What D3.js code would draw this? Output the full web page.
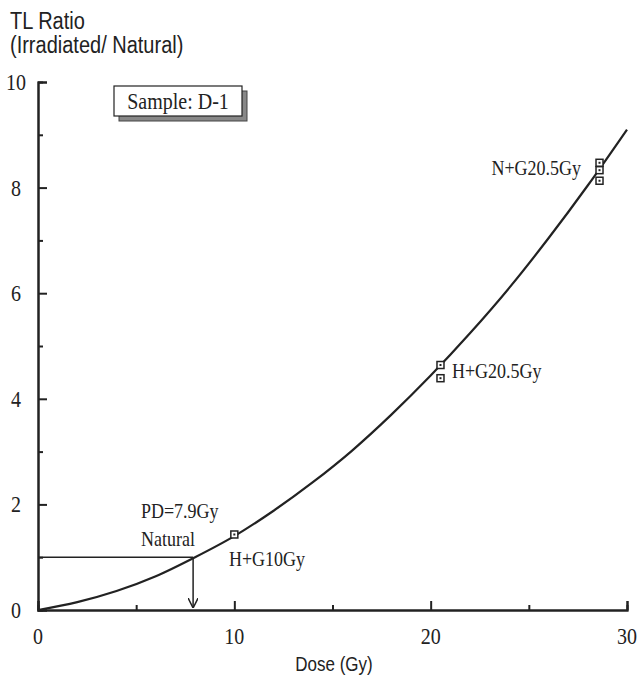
<!DOCTYPE html>
<html>
<head>
<meta charset="utf-8">
<script src="https://cdn.jsdelivr.net/npm/d3@7"></script>
<style>
  body { margin: 0; background: #fff; }
  svg text { fill: #222; }
</style>
</head>
<body>
<div id="chart"></div>
<script>
// curve (dose, ratio)
const curveDose = [0, 2, 4, 6, 8, 10, 12, 14, 16, 18, 20, 22, 24, 26, 28, 30];
const curveRatio = [0, 0.15, 0.36, 0.64, 1.0, 1.4, 1.88, 2.42, 3.02, 3.7, 4.44, 5.24, 6.1, 7.04, 8.04, 9.1];

// measured points
const pointDose = [10.0, 20.5, 20.5, 28.6, 28.6, 28.6];
const pointRatio = [1.43, 4.64, 4.39, 8.47, 8.33, 8.13];

const xTicks = [0, 10, 20, 30];
const xMinor = [5, 15, 25];
const yTicks = [0, 2, 4, 6, 8, 10];
const yMinor = [1, 3, 5, 7, 9];

const paleoDose = 7.9;
const naturalRatio = 1.0;

const width = 640, height = 687;
const margin = { left: 38, right: 13, top: 82, bottom: 77 };

const svg = d3.select("#chart").append("svg")
  .attr("width", width)
  .attr("height", height);

const x = d3.scaleLinear().domain([0, 30]).range([margin.left, width - margin.right]);
const y = d3.scaleLinear().domain([0, 10]).range([height - margin.bottom, margin.top]);

const serif = "'Liberation Serif', 'Times New Roman', serif";
const sans = "'Liberation Sans', Arial, sans-serif";

// axes (ticks inward)
const xAxis = svg.append("g")
  .attr("transform", "translate(0," + y(0) + ")")
  .call(d3.axisTop(x).tickValues(xTicks).tickSize(9).tickFormat(""));
const xMinorAxis = svg.append("g")
  .attr("transform", "translate(0," + y(0) + ")")
  .call(d3.axisTop(x).tickValues(xMinor).tickSize(5).tickFormat(""));
const yAxis = svg.append("g")
  .attr("transform", "translate(" + x(0) + ",0)")
  .call(d3.axisRight(y).tickValues(yTicks).tickSize(9).tickFormat(""));
const yMinorAxis = svg.append("g")
  .attr("transform", "translate(" + x(0) + ",0)")
  .call(d3.axisRight(y).tickValues(yMinor).tickSize(5).tickFormat(""));

[xAxis, xMinorAxis, yAxis, yMinorAxis].forEach((g) => {
  g.selectAll(".domain").attr("stroke", "#222").attr("stroke-width", 2);
  g.selectAll(".tick line").attr("stroke", "#222").attr("stroke-width", 2);
});

// tick labels
svg.append("g").selectAll("text")
  .data(xTicks)
  .enter()
  .append("text")
  .attr("x", (d) => x(d))
  .attr("y", y(0) + 34)
  .attr("text-anchor", "middle")
  .attr("font-family", serif)
  .attr("font-size", 20)
  .text((d) => d);

svg.append("g").selectAll("text")
  .data(yTicks)
  .enter()
  .append("text")
  .attr("x", 16)
  .attr("y", (d) => y(d) + 8)
  .attr("text-anchor", "middle")
  .attr("font-family", serif)
  .attr("font-size", 20)
  .text((d) => d);

// axis titles
svg.append("text").attr("x", 10).attr("y", 29)
  .attr("font-family", sans).attr("font-size", 20).text("TL Ratio");
svg.append("text").attr("x", 10).attr("y", 53)
  .attr("font-family", sans).attr("font-size", 20).text("(Irradiated/ Natural)");
svg.append("text").attr("x", 334).attr("y", 671)
  .attr("text-anchor", "middle")
  .attr("font-family", sans).attr("font-size", 17).text("Dose (Gy)");

// fitted curve
const line = d3.line()
  .x((d, i) => x(curveDose[i]))
  .y((d, i) => y(curveRatio[i]))
  .curve(d3.curveMonotoneX);
svg.append("path")
  .datum(curveDose)
  .attr("d", line)
  .attr("fill", "none")
  .attr("stroke", "#222")
  .attr("stroke-width", 2.2);

// natural level and paleodose arrow
svg.append("defs").append("marker")
  .attr("id", "arrow")
  .attr("viewBox", "0 0 10 10")
  .attr("refX", 10).attr("refY", 5)
  .attr("markerWidth", 10).attr("markerHeight", 10)
  .attr("markerUnits", "userSpaceOnUse")
  .attr("orient", "auto")
  .append("path")
  .attr("d", "M0,0 L10,5 L0,10")
  .attr("fill", "none")
  .attr("stroke", "#222")
  .attr("stroke-width", 1.5);

svg.append("line")
  .attr("x1", x(0)).attr("x2", x(paleoDose))
  .attr("y1", y(naturalRatio)).attr("y2", y(naturalRatio))
  .attr("stroke", "#222").attr("stroke-width", 1.5);
svg.append("line")
  .attr("x1", x(paleoDose)).attr("x2", x(paleoDose))
  .attr("y1", y(naturalRatio)).attr("y2", y(0) - 2)
  .attr("stroke", "#222").attr("stroke-width", 1.5)
  .attr("marker-end", "url(#arrow)");

// points
const pts = svg.append("g").selectAll("g")
  .data(pointDose)
  .enter()
  .append("g")
  .attr("transform", (d, i) => "translate(" + x(d) + "," + y(pointRatio[i]) + ")");
pts.append("rect")
  .attr("x", -3.5).attr("y", -3.5).attr("width", 7).attr("height", 7)
  .attr("fill", "#fff").attr("stroke", "#222").attr("stroke-width", 1.5);
pts.append("rect")
  .attr("x", -1).attr("y", -1).attr("width", 2).attr("height", 2)
  .attr("fill", "#222");

// annotations
const labels = [
  { t: "PD=7.9Gy", x: 141, y: 518, a: "start" },
  { t: "Natural", x: 141, y: 546, a: "start" },
  { t: "H+G10Gy", x: 229, y: 566, a: "start" },
  { t: "H+G20.5Gy", x: 452, y: 378, a: "start" },
  { t: "N+G20.5Gy", x: 581, y: 175, a: "end" },
];
svg.append("g").selectAll("text")
  .data(labels)
  .enter()
  .append("text")
  .attr("x", (d) => d.x)
  .attr("y", (d) => d.y)
  .attr("text-anchor", (d) => d.a)
  .attr("font-family", serif)
  .attr("font-size", 18)
  .text((d) => d.t);

// sample box with shadow
const box = svg.append("g").attr("transform", "translate(114,86)");
box.append("rect")
  .attr("x", 5).attr("y", 5).attr("width", 128).attr("height", 30)
  .attr("fill", "#888").attr("stroke", "#444").attr("stroke-width", 1);
box.append("rect")
  .attr("width", 128).attr("height", 30)
  .attr("fill", "#fff").attr("stroke", "#222").attr("stroke-width", 1.2);
box.append("text")
  .attr("x", 64).attr("y", 23)
  .attr("text-anchor", "middle")
  .attr("font-family", serif)
  .attr("font-size", 20)
  .text("Sample: D-1");

// the source glyphs are a little taller than wide: stretch text vertically
svg.selectAll("text").each(function () {
  const t = d3.select(this);
  const tx = +t.attr("x"), ty = +t.attr("y");
  t.attr("x", 0).attr("y", 0)
    .attr("transform", "translate(" + tx + "," + ty + ") scale(1,1.15)");
});
</script>
</body>
</html>
